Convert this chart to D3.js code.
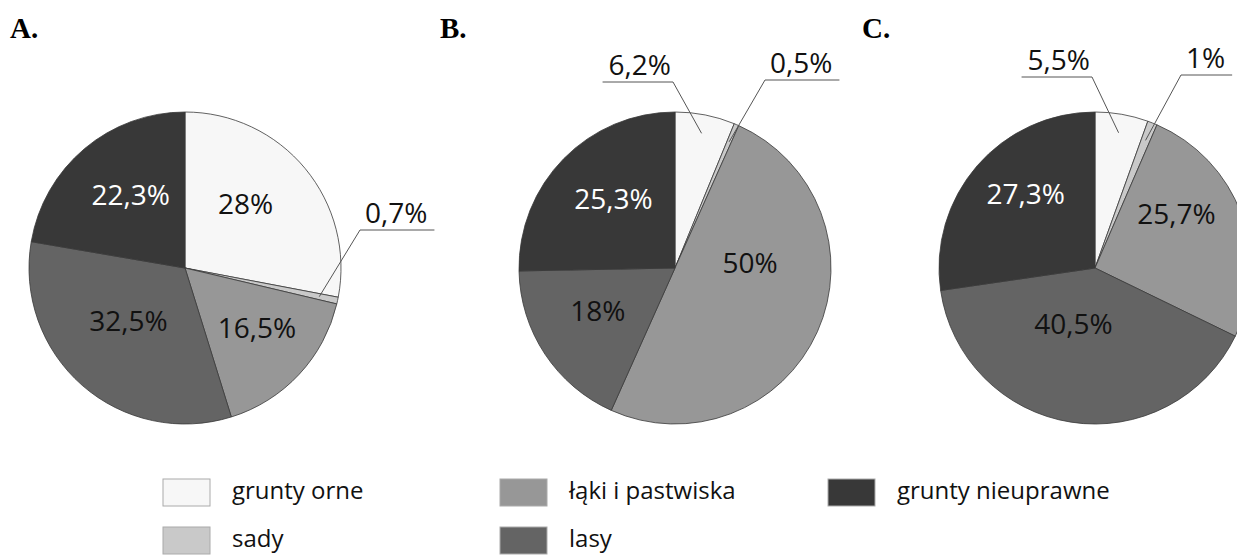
<!DOCTYPE html>
<html>
<head>
<meta charset="utf-8">
<script src="https://cdn.jsdelivr.net/npm/d3@7"></script>
<style>
  body { margin: 0; background: #fff; }
  svg { display: block; }
  .slice { stroke: #3a3a3a; stroke-width: 0.8; }
  .pct { font-family: 'Open Sans', sans-serif; font-size: 28px; }
  .leader { stroke: #555; stroke-width: 1; fill: none; }
  .panel-title { font-family: 'Liberation Serif', 'Times New Roman', serif; font-weight: bold; font-size: 29px; }
  .legend text { font-family: 'Open Sans', sans-serif; font-size: 24px; fill: #111; }
  .legend rect { stroke: #aaa; stroke-width: 1; }
</style>
</head>
<body>
<div id="chart"></div>
<script>
var categories = ['grunty orne', 'sady', 'łąki i pastwiska', 'lasy', 'grunty nieuprawne'];
var colors = ['#f7f7f7', '#c9c9c9', '#979797', '#646464', '#383838'];
var panelNames = ['A.', 'B.', 'C.'];
var valuesA = [28, 0.7, 16.5, 32.5, 22.3];
var valuesB = [6.2, 0.5, 50, 18, 25.3];
var valuesC = [5.5, 1, 25.7, 40.5, 27.3];

var width = 1237, height = 555;
var radius = 156;
var cy = 268;

/* layout, per panel */
var panels = [
    { title: panelNames[0], values: valuesA, cx: 185, titleX: 10,
      shift: [[-8, -7], null, [7, 0], [2, -14], [3, -5]],
      callouts: [{ index: 1, elbow: [175, -38], side: 'right' }] },
    { title: panelNames[1], values: valuesB, cx: 675, titleX: 440,
      shift: [null, null, [-6, -41], [-3, -6], [2, -7]],
      callouts: [{ index: 0, elbow: [-2, -186], side: 'left' },
                 { index: 1, elbow: [90, -188], side: 'right' }] },
    { title: panelNames[2], values: valuesC, cx: 1095, titleX: 862,
      shift: [null, null, [-2, -23], [-8, -32], [-2, -16]],
      callouts: [{ index: 0, elbow: [-3, -191], side: 'left' },
                 { index: 1, elbow: [86, -193], side: 'right' }] }
];

function fmt(v) {
    return String(v).replace('.', ',') + '%';
}

var svg = d3.select('#chart').append('svg')
    .attr('width', width)
    .attr('height', height);

var pie = d3.pie().sort(null).value(function (d) { return d; });
var arc = d3.arc().innerRadius(0).outerRadius(radius);
var labelArc = d3.arc().innerRadius(radius * 0.57).outerRadius(radius * 0.57);
var pointArc = d3.arc().innerRadius(radius * 0.88).outerRadius(radius * 0.88);

panels.forEach(function (p) {
    svg.append('text')
        .attr('class', 'panel-title')
        .attr('x', p.titleX)
        .attr('y', 38)
        .text(p.title);

    var g = svg.append('g').attr('transform', 'translate(' + p.cx + ',' + cy + ')');
    var arcs = pie(p.values);

    g.selectAll('path.slice')
        .data(arcs)
        .enter().append('path')
        .attr('class', 'slice')
        .attr('d', arc)
        .attr('fill', function (d, i) { return colors[i]; });

    /* labels inside slices */
    arcs.forEach(function (d, i) {
        if (!p.shift[i]) return;
        var c = labelArc.centroid(d);
        g.append('text')
            .attr('class', 'pct')
            .attr('x', c[0] + p.shift[i][0])
            .attr('y', c[1] + p.shift[i][1])
            .attr('dy', '0.35em')
            .attr('text-anchor', 'middle')
            .attr('fill', i === 4 ? '#fff' : '#111')
            .text(fmt(p.values[i]));
    });

    /* callouts for the small slices */
    p.callouts.forEach(function (c) {
        var d = arcs[c.index];
        var pt = pointArc.centroid(d);
        var ex = c.elbow[0], ey = c.elbow[1];
        var t = g.append('text')
            .attr('class', 'pct')
            .attr('y', ey - 7)
            .attr('fill', '#111')
            .text(fmt(p.values[c.index]));
        var len = t.node().getComputedTextLength();
        var x2;
        if (c.side === 'right') {
            t.attr('x', ex + 5).attr('text-anchor', 'start');
            x2 = ex + len + 12;
        } else {
            t.attr('x', ex - 2).attr('text-anchor', 'end');
            x2 = ex - len - 8;
        }
        g.insert('path', 'text')
            .attr('class', 'leader')
            .attr('d', d3.line()([[pt[0], pt[1]], [ex, ey], [x2, ey]]));
    });
});

/* legend */
var legendCols = [163, 500, 828];
var legendRows = [479, 527];
var legendPos = [[0, 0], [0, 1], [1, 0], [1, 1], [2, 0]];

var legend = svg.append('g').attr('class', 'legend');
var items = legend.selectAll('g')
    .data(categories)
    .enter().append('g')
    .attr('transform', function (d, i) {
        return 'translate(' + legendCols[legendPos[i][0]] + ',' + legendRows[legendPos[i][1]] + ')';
    });

items.append('rect')
    .attr('width', 47)
    .attr('height', 27)
    .attr('fill', function (d, i) { return colors[i]; });

items.append('text')
    .attr('x', 69)
    .attr('y', 20)
    .text(function (d) { return d; });
</script>
</body>
</html>
